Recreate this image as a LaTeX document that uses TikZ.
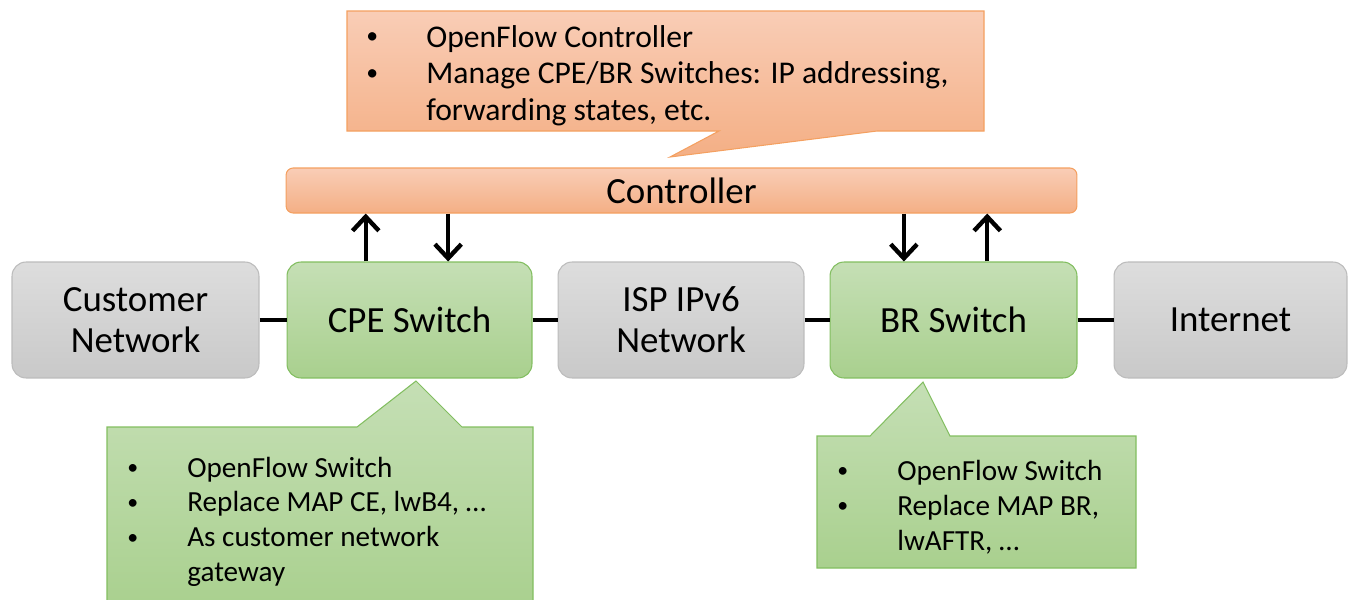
\documentclass[tikz,border=0pt]{standalone}
\usepackage{fontspec}
\setmainfont{Carlito}
\usepackage{xcolor}
\usepackage{tikz}
\usetikzlibrary{arrows.meta, positioning}
\usetikzlibrary{calc}
\definecolor{graytop}{HTML}{DDDDDD}
\definecolor{graybottom}{HTML}{C9C9C9}
\definecolor{grayborder}{HTML}{BCBCBC}
\definecolor{greentop}{HTML}{C5DFB5}
\definecolor{greenbottom}{HTML}{A9D08E}
\definecolor{greenborder}{HTML}{82BE60}
\definecolor{orangetop}{HTML}{F9CDB6}
\definecolor{orangebottom}{HTML}{F4AF85}
\definecolor{orangeborder}{HTML}{F4A060}

\newcommand{\bul}{\raisebox{0.1em}{\scalebox{0.75}{\textbullet}}}

\begin{document}
\begin{tikzpicture}[x=0.02cm, y=-0.02cm, >={Straight Barb[length=8pt,width=15pt]}]
        \useasboundingbox (0,0) rectangle (1348,599);
        \tikzset{netbox/.style={top color=graytop, bottom color=graybottom, draw=grayborder},
            switchbox/.style={top color=greentop, bottom color=greenbottom, draw=greenborder},
            link/.style={line width=2pt},
            ctrllink/.style={line width=2.5pt, ->}}
        % main row
        \begin{scope}[every node/.style={rounded corners=8pt,
            minimum height=2.32cm,
            line width=0.6pt,
            align=center,
            font=\fontsize{21}{23.5}\selectfont}]
            \node[netbox, minimum width=4.94cm] at (135.5,320) (cust) {Customer\\Network};
            \node[switchbox, minimum width=4.9cm] at (409.5,320) (cpe) {CPE Switch};
            \node[netbox, minimum width=4.92cm] at (681,320) (isp) {ISP IPv6\\Network};
            \node[switchbox, minimum width=4.94cm] at (953.5,320) (br) {BR Switch};
            \node[netbox, minimum width=4.66cm] at (1230.5,320) (inet) {Internet};
        \end{scope}
        \node[rounded corners=4pt, top color=orangetop, bottom color=orangebottom, draw=orangeborder, line width=0.6pt,
            minimum width=15.82cm, minimum height=0.9cm, font=\fontsize{21}{23.5}\selectfont] at (681.5,190.5) (ctrl) {Controller};
        \draw[link] (cust.east) -- (cpe.west);
        \draw[link] (cpe.east) -- (isp.west);
        \draw[link] (isp.east) -- (br.west);
        \draw[link] (br.east) -- (inet.west);
        \coordinate (cpeup) at ($(cpe.north west)!0.322!(cpe.north east)$);
        \coordinate (cpedown) at ($(cpe.north west)!0.657!(cpe.north east)$);
        \coordinate (brdown) at ($(br.north west)!0.30!(br.north east)$);
        \coordinate (brup) at ($(br.north west)!0.636!(br.north east)$);
        \draw[ctrllink] (cpeup) -- (cpeup |- ctrl.south);
        \draw[ctrllink] (cpedown |- ctrl.south) -- (cpedown);
        \draw[ctrllink] (brdown |- ctrl.south) -- (brdown);
        \draw[ctrllink] (brup) -- (brup |- ctrl.south);
        % callouts
        \path[top color=orangetop, bottom color=orangebottom, draw=orangeborder, line width=0.6pt]
            (347,11) -- (984,11) -- (984,131) -- (877,131) -- (670,157) -- (719,131) -- (347,131) -- cycle;
        \path[top color=greentop, bottom color=greenbottom, draw=greenborder, line width=0.6pt]
            (107,427) -- (357,427) -- (416,381) -- (462,427) -- (533,427) -- (533,610) -- (107,610) -- cycle;
        \path[top color=greentop, bottom color=greenbottom, draw=greenborder, line width=0.6pt]
            (817,436) -- (870,436) -- (923,382) -- (950,436) -- (1136,436) -- (1136,568) -- (817,568) -- cycle;
        \node[anchor=base west, inner sep=0pt, font=\fontsize{18}{20.8}\selectfont] at (366,47) (ctrlnote)
            {\begin{tabular}[t]{@{}p{1.2cm}@{}l@{}}
            \bul & OpenFlow Controller\\
            \bul & Manage CPE/BR Switches: IP addressing,\\
                 & forwarding states, etc.
            \end{tabular}};
        \node[anchor=base west, inner sep=0pt, font=\fontsize{16.6}{19.9}\selectfont] at (127,477) (cpenote)
            {\begin{tabular}[t]{@{}p{1.2cm}@{}l@{}}
            \bul & OpenFlow Switch\\
            \bul & Replace MAP CE, lwB4, …\\
            \bul & As customer network\\
                 & gateway
            \end{tabular}};
        \node[anchor=base west, inner sep=0pt, font=\fontsize{16.6}{20.2}\selectfont] at (837,480) (brnote)
            {\begin{tabular}[t]{@{}p{1.2cm}@{}l@{}}
            \bul & OpenFlow Switch\\
            \bul & Replace MAP BR,\\
                 & lwAFTR, …
            \end{tabular}};
\end{tikzpicture}
\end{document}
